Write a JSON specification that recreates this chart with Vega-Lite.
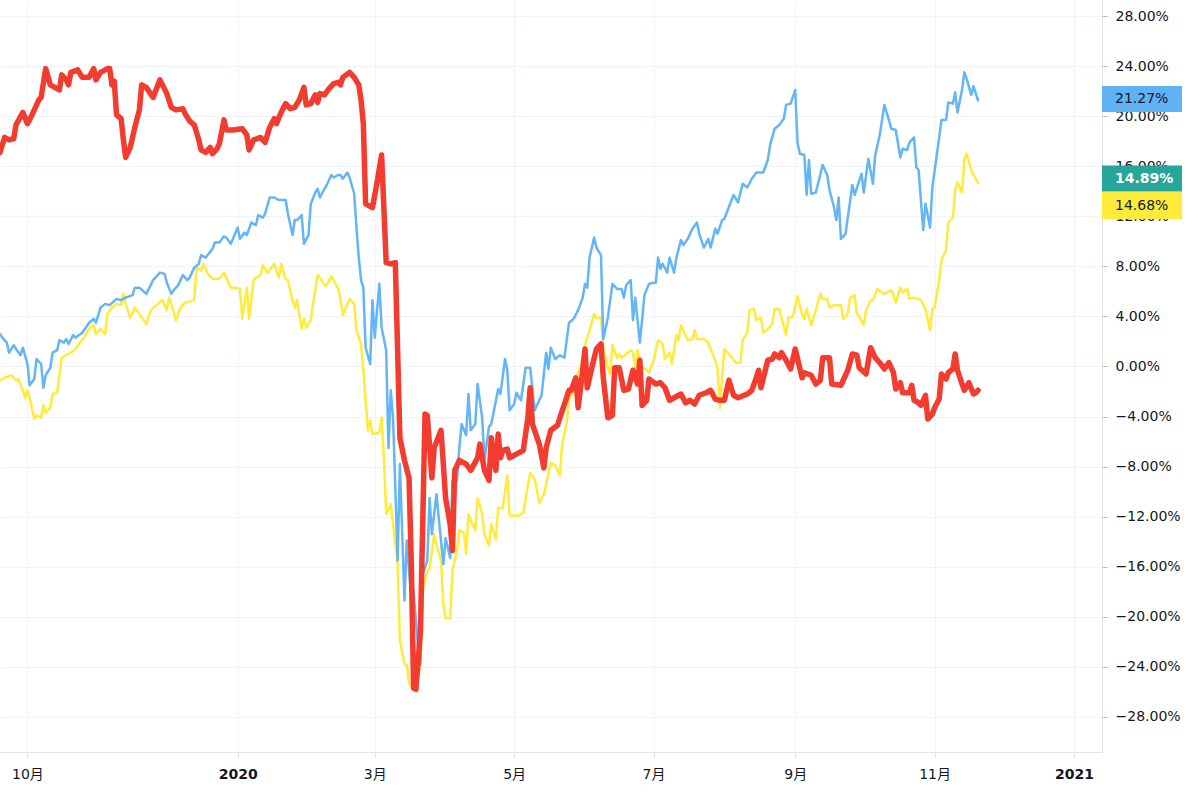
{
"$schema":"https://vega.github.io/schema/vega-lite/v6.json",
"width":1102,"height":752,
"autosize":{"type":"none"},
"padding":{"left":0,"top":0,"right":98,"bottom":40},
"background":"white",
"datasets":{
"red":[
{"date":"2019-09-19","value":17.1},{"date":"2019-09-21","value":18.3},{"date":"2019-09-23","value":18.1},{"date":"2019-09-25","value":18.2},{"date":"2019-09-26","value":19.3},{"date":"2019-09-29","value":20.3},{"date":"2019-10-01","value":19.4},{"date":"2019-10-03","value":20.1},{"date":"2019-10-04","value":20.5},{"date":"2019-10-06","value":21.3},{"date":"2019-10-07","value":21.5},{"date":"2019-10-09","value":23.8},{"date":"2019-10-11","value":22.5},{"date":"2019-10-13","value":22.3},{"date":"2019-10-15","value":22.1},{"date":"2019-10-16","value":23.3},{"date":"2019-10-18","value":22.9},{"date":"2019-10-19","value":22.5},{"date":"2019-10-20","value":23.5},{"date":"2019-10-23","value":23.7},{"date":"2019-10-25","value":23.1},{"date":"2019-10-28","value":23.1},{"date":"2019-10-30","value":23.8},{"date":"2019-10-31","value":22.9},{"date":"2019-11-02","value":23.5},{"date":"2019-11-05","value":23.8},{"date":"2019-11-06","value":23.8},{"date":"2019-11-07","value":22.5},{"date":"2019-11-08","value":22.8},{"date":"2019-11-09","value":20.1},{"date":"2019-11-11","value":19.8},{"date":"2019-11-12","value":18.1},{"date":"2019-11-13","value":16.7},{"date":"2019-11-15","value":17.5},{"date":"2019-11-17","value":19.1},{"date":"2019-11-19","value":20.5},{"date":"2019-11-20","value":22.5},{"date":"2019-11-22","value":22.3},{"date":"2019-11-25","value":21.5},{"date":"2019-11-28","value":22.9},{"date":"2019-12-01","value":21.8},{"date":"2019-12-03","value":20.7},{"date":"2019-12-05","value":20.5},{"date":"2019-12-08","value":20.6},{"date":"2019-12-09","value":20.2},{"date":"2019-12-11","value":19.6},{"date":"2019-12-13","value":19.3},{"date":"2019-12-15","value":18.1},{"date":"2019-12-16","value":17.3},{"date":"2019-12-18","value":17.1},{"date":"2019-12-20","value":17.5},{"date":"2019-12-21","value":17.0},{"date":"2019-12-23","value":17.4},{"date":"2019-12-24","value":17.8},{"date":"2019-12-26","value":19.7},{"date":"2019-12-27","value":18.9},{"date":"2019-12-30","value":18.9},{"date":"2020-01-03","value":19.0},{"date":"2020-01-05","value":18.5},{"date":"2020-01-06","value":17.3},{"date":"2020-01-08","value":18.1},{"date":"2020-01-11","value":18.3},{"date":"2020-01-13","value":17.9},{"date":"2020-01-15","value":19.1},{"date":"2020-01-17","value":19.8},{"date":"2020-01-18","value":19.4},{"date":"2020-01-20","value":20.3},{"date":"2020-01-22","value":21.0},{"date":"2020-01-24","value":20.6},{"date":"2020-01-26","value":20.7},{"date":"2020-01-28","value":21.3},{"date":"2020-01-30","value":22.3},{"date":"2020-01-31","value":20.9},{"date":"2020-02-02","value":21.0},{"date":"2020-02-04","value":21.7},{"date":"2020-02-05","value":21.1},{"date":"2020-02-06","value":21.8},{"date":"2020-02-08","value":21.7},{"date":"2020-02-10","value":22.2},{"date":"2020-02-12","value":22.6},{"date":"2020-02-14","value":22.7},{"date":"2020-02-15","value":22.5},{"date":"2020-02-16","value":23.1},{"date":"2020-02-19","value":23.5},{"date":"2020-02-21","value":23.1},{"date":"2020-02-23","value":22.5},{"date":"2020-02-24","value":21.3},{"date":"2020-02-25","value":19.4},{"date":"2020-02-26","value":13.0},{"date":"2020-02-29","value":12.7},{"date":"2020-03-02","value":14.7},{"date":"2020-03-04","value":16.9},{"date":"2020-03-06","value":8.3},{"date":"2020-03-08","value":8.2},{"date":"2020-03-10","value":8.3},{"date":"2020-03-12","value":-5.7},{"date":"2020-03-14","value":-7.5},{"date":"2020-03-16","value":-8.9},{"date":"2020-03-17","value":-15.8},{"date":"2020-03-18","value":-25.7},{"date":"2020-03-19","value":-25.8},{"date":"2020-03-21","value":-21.1},{"date":"2020-03-23","value":-3.8},{"date":"2020-03-24","value":-3.9},{"date":"2020-03-26","value":-8.9},{"date":"2020-03-27","value":-6.5},{"date":"2020-03-30","value":-5.1},{"date":"2020-04-01","value":-10.5},{"date":"2020-04-03","value":-12.6},{"date":"2020-04-04","value":-14.7},{"date":"2020-04-05","value":-8.3},{"date":"2020-04-07","value":-7.5},{"date":"2020-04-10","value":-7.8},{"date":"2020-04-12","value":-8.3},{"date":"2020-04-15","value":-7.3},{"date":"2020-04-16","value":-6.2},{"date":"2020-04-18","value":-8.3},{"date":"2020-04-20","value":-9.1},{"date":"2020-04-21","value":-5.7},{"date":"2020-04-23","value":-8.3},{"date":"2020-04-24","value":-5.4},{"date":"2020-04-25","value":-7.3},{"date":"2020-04-26","value":-6.7},{"date":"2020-04-28","value":-6.6},{"date":"2020-04-29","value":-7.3},{"date":"2020-05-05","value":-6.7},{"date":"2020-05-07","value":-4.1},{"date":"2020-05-08","value":-1.7},{"date":"2020-05-09","value":-4.6},{"date":"2020-05-12","value":-6.2},{"date":"2020-05-14","value":-8.1},{"date":"2020-05-15","value":-6.5},{"date":"2020-05-17","value":-5.1},{"date":"2020-05-20","value":-4.7},{"date":"2020-05-21","value":-4.1},{"date":"2020-05-23","value":-3.0},{"date":"2020-05-25","value":-1.9},{"date":"2020-05-26","value":-1.9},{"date":"2020-05-28","value":-0.9},{"date":"2020-05-29","value":-3.3},{"date":"2020-05-31","value":-0.3},{"date":"2020-06-01","value":1.4},{"date":"2020-06-02","value":-1.7},{"date":"2020-06-04","value":-0.1},{"date":"2020-06-06","value":1.4},{"date":"2020-06-08","value":1.8},{"date":"2020-06-09","value":-0.9},{"date":"2020-06-11","value":-4.1},{"date":"2020-06-13","value":-3.9},{"date":"2020-06-14","value":-0.1},{"date":"2020-06-16","value":-0.1},{"date":"2020-06-18","value":-1.9},{"date":"2020-06-20","value":-1.8},{"date":"2020-06-22","value":-0.3},{"date":"2020-06-24","value":-1.4},{"date":"2020-06-25","value":0.5},{"date":"2020-06-26","value":-3.1},{"date":"2020-06-28","value":-2.7},{"date":"2020-06-29","value":-1.0},{"date":"2020-07-02","value":-1.4},{"date":"2020-07-04","value":-1.3},{"date":"2020-07-06","value":-1.7},{"date":"2020-07-08","value":-2.7},{"date":"2020-07-10","value":-2.5},{"date":"2020-07-13","value":-2.2},{"date":"2020-07-15","value":-2.9},{"date":"2020-07-17","value":-2.7},{"date":"2020-07-19","value":-3.0},{"date":"2020-07-21","value":-2.3},{"date":"2020-07-24","value":-2.1},{"date":"2020-07-26","value":-1.9},{"date":"2020-07-28","value":-2.6},{"date":"2020-07-30","value":-2.7},{"date":"2020-08-01","value":-2.7},{"date":"2020-08-03","value":-1.1},{"date":"2020-08-05","value":-2.3},{"date":"2020-08-07","value":-2.5},{"date":"2020-08-11","value":-2.2},{"date":"2020-08-13","value":-1.9},{"date":"2020-08-14","value":-1.4},{"date":"2020-08-16","value":-0.3},{"date":"2020-08-17","value":-1.7},{"date":"2020-08-20","value":0.5},{"date":"2020-08-22","value":0.6},{"date":"2020-08-23","value":1.0},{"date":"2020-08-25","value":0.7},{"date":"2020-08-26","value":1.1},{"date":"2020-08-28","value":0.5},{"date":"2020-08-30","value":-0.2},{"date":"2020-09-01","value":1.4},{"date":"2020-09-04","value":-0.9},{"date":"2020-09-05","value":-0.5},{"date":"2020-09-08","value":-0.7},{"date":"2020-09-10","value":-1.4},{"date":"2020-09-12","value":-1.1},{"date":"2020-09-13","value":0.7},{"date":"2020-09-16","value":0.7},{"date":"2020-09-17","value":-1.4},{"date":"2020-09-21","value":-1.5},{"date":"2020-09-24","value":-0.3},{"date":"2020-09-26","value":1.0},{"date":"2020-09-28","value":0.9},{"date":"2020-09-29","value":-0.1},{"date":"2020-10-02","value":-0.6},{"date":"2020-10-04","value":1.5},{"date":"2020-10-06","value":0.7},{"date":"2020-10-08","value":0.3},{"date":"2020-10-10","value":-0.2},{"date":"2020-10-12","value":0.3},{"date":"2020-10-14","value":-0.5},{"date":"2020-10-15","value":-1.8},{"date":"2020-10-17","value":-1.3},{"date":"2020-10-18","value":-2.1},{"date":"2020-10-21","value":-2.1},{"date":"2020-10-22","value":-1.5},{"date":"2020-10-23","value":-2.7},{"date":"2020-10-25","value":-2.9},{"date":"2020-10-26","value":-3.1},{"date":"2020-10-28","value":-2.3},{"date":"2020-10-29","value":-4.2},{"date":"2020-10-31","value":-3.8},{"date":"2020-11-01","value":-3.3},{"date":"2020-11-03","value":-2.6},{"date":"2020-11-04","value":-0.6},{"date":"2020-11-06","value":-1.0},{"date":"2020-11-07","value":-0.5},{"date":"2020-11-09","value":-0.2},{"date":"2020-11-10","value":1.0},{"date":"2020-11-11","value":-0.3},{"date":"2020-11-13","value":-1.4},{"date":"2020-11-14","value":-1.9},{"date":"2020-11-16","value":-1.3},{"date":"2020-11-18","value":-2.2},{"date":"2020-11-19","value":-2.1},{"date":"2020-11-20","value":-1.9}
],
"blue":[
{"date":"2019-09-19","value":2.6},{"date":"2019-09-20","value":2.3},{"date":"2019-09-22","value":1.9},{"date":"2019-09-23","value":1.1},{"date":"2019-09-25","value":1.7},{"date":"2019-09-26","value":1.4},{"date":"2019-09-28","value":0.9},{"date":"2019-09-29","value":1.5},{"date":"2019-10-01","value":0.2},{"date":"2019-10-02","value":-1.5},{"date":"2019-10-04","value":-1.0},{"date":"2019-10-05","value":0.6},{"date":"2019-10-07","value":0.2},{"date":"2019-10-08","value":-1.7},{"date":"2019-10-09","value":-0.7},{"date":"2019-10-11","value":-0.1},{"date":"2019-10-12","value":1.1},{"date":"2019-10-14","value":1.3},{"date":"2019-10-15","value":2.1},{"date":"2019-10-17","value":1.9},{"date":"2019-10-18","value":2.2},{"date":"2019-10-19","value":1.8},{"date":"2019-10-21","value":2.5},{"date":"2019-10-22","value":2.3},{"date":"2019-10-25","value":2.7},{"date":"2019-10-28","value":3.5},{"date":"2019-10-30","value":3.8},{"date":"2019-10-31","value":3.5},{"date":"2019-11-02","value":4.7},{"date":"2019-11-04","value":5.0},{"date":"2019-11-06","value":4.9},{"date":"2019-11-09","value":5.4},{"date":"2019-11-11","value":5.3},{"date":"2019-11-13","value":5.5},{"date":"2019-11-16","value":5.7},{"date":"2019-11-17","value":6.3},{"date":"2019-11-19","value":6.3},{"date":"2019-11-22","value":5.8},{"date":"2019-11-25","value":6.9},{"date":"2019-11-28","value":7.5},{"date":"2019-11-30","value":7.4},{"date":"2019-12-01","value":6.7},{"date":"2019-12-03","value":5.8},{"date":"2019-12-04","value":6.1},{"date":"2019-12-06","value":6.5},{"date":"2019-12-08","value":7.3},{"date":"2019-12-10","value":6.9},{"date":"2019-12-11","value":7.1},{"date":"2019-12-13","value":7.9},{"date":"2019-12-15","value":8.2},{"date":"2019-12-16","value":8.9},{"date":"2019-12-18","value":8.7},{"date":"2019-12-21","value":9.4},{"date":"2019-12-22","value":9.9},{"date":"2019-12-24","value":9.9},{"date":"2019-12-26","value":10.4},{"date":"2019-12-27","value":10.3},{"date":"2019-12-29","value":9.8},{"date":"2019-12-30","value":10.2},{"date":"2020-01-01","value":11.1},{"date":"2020-01-02","value":10.2},{"date":"2020-01-04","value":10.7},{"date":"2020-01-05","value":10.5},{"date":"2020-01-07","value":11.5},{"date":"2020-01-09","value":11.3},{"date":"2020-01-10","value":12.1},{"date":"2020-01-12","value":11.9},{"date":"2020-01-13","value":12.2},{"date":"2020-01-15","value":13.5},{"date":"2020-01-17","value":13.5},{"date":"2020-01-19","value":13.3},{"date":"2020-01-22","value":13.3},{"date":"2020-01-23","value":12.2},{"date":"2020-01-25","value":10.5},{"date":"2020-01-26","value":11.7},{"date":"2020-01-27","value":11.7},{"date":"2020-01-29","value":12.1},{"date":"2020-01-30","value":9.8},{"date":"2020-02-01","value":10.5},{"date":"2020-02-02","value":13.0},{"date":"2020-02-04","value":13.9},{"date":"2020-02-05","value":14.2},{"date":"2020-02-06","value":13.5},{"date":"2020-02-08","value":14.2},{"date":"2020-02-09","value":14.5},{"date":"2020-02-11","value":15.3},{"date":"2020-02-12","value":15.1},{"date":"2020-02-14","value":15.3},{"date":"2020-02-15","value":15.3},{"date":"2020-02-16","value":15.0},{"date":"2020-02-18","value":15.5},{"date":"2020-02-19","value":15.1},{"date":"2020-02-21","value":13.8},{"date":"2020-02-22","value":11.1},{"date":"2020-02-23","value":8.7},{"date":"2020-02-24","value":6.9},{"date":"2020-02-25","value":6.3},{"date":"2020-02-26","value":1.5},{"date":"2020-02-28","value":0.2},{"date":"2020-02-29","value":5.3},{"date":"2020-03-01","value":2.3},{"date":"2020-03-03","value":6.6},{"date":"2020-03-04","value":3.1},{"date":"2020-03-06","value":1.3},{"date":"2020-03-07","value":-6.5},{"date":"2020-03-08","value":-1.9},{"date":"2020-03-09","value":-4.1},{"date":"2020-03-11","value":-15.5},{"date":"2020-03-12","value":-7.8},{"date":"2020-03-14","value":-18.7},{"date":"2020-03-15","value":-13.9},{"date":"2020-03-17","value":-18.5},{"date":"2020-03-18","value":-17.9},{"date":"2020-03-20","value":-22.5},{"date":"2020-03-21","value":-23.8},{"date":"2020-03-22","value":-16.6},{"date":"2020-03-24","value":-15.5},{"date":"2020-03-25","value":-10.5},{"date":"2020-03-26","value":-13.4},{"date":"2020-03-28","value":-10.2},{"date":"2020-03-29","value":-12.1},{"date":"2020-03-31","value":-15.8},{"date":"2020-04-01","value":-13.7},{"date":"2020-04-03","value":-15.3},{"date":"2020-04-04","value":-9.1},{"date":"2020-04-06","value":-9.1},{"date":"2020-04-07","value":-6.5},{"date":"2020-04-08","value":-4.6},{"date":"2020-04-10","value":-5.5},{"date":"2020-04-11","value":-2.2},{"date":"2020-04-12","value":-5.1},{"date":"2020-04-14","value":-4.6},{"date":"2020-04-15","value":-1.4},{"date":"2020-04-17","value":-4.1},{"date":"2020-04-18","value":-7.5},{"date":"2020-04-20","value":-4.8},{"date":"2020-04-21","value":-4.6},{"date":"2020-04-24","value":-1.8},{"date":"2020-04-25","value":-2.2},{"date":"2020-04-27","value":0.6},{"date":"2020-04-28","value":-0.3},{"date":"2020-04-29","value":-3.5},{"date":"2020-05-01","value":-3.0},{"date":"2020-05-02","value":-2.1},{"date":"2020-05-04","value":-2.7},{"date":"2020-05-06","value":-0.1},{"date":"2020-05-08","value":-0.1},{"date":"2020-05-10","value":-3.5},{"date":"2020-05-12","value":-2.7},{"date":"2020-05-13","value":-2.3},{"date":"2020-05-15","value":1.1},{"date":"2020-05-16","value":-0.2},{"date":"2020-05-17","value":1.5},{"date":"2020-05-19","value":0.6},{"date":"2020-05-21","value":0.9},{"date":"2020-05-23","value":0.7},{"date":"2020-05-25","value":3.5},{"date":"2020-05-27","value":3.8},{"date":"2020-05-29","value":4.5},{"date":"2020-05-31","value":5.5},{"date":"2020-06-01","value":6.6},{"date":"2020-06-02","value":6.3},{"date":"2020-06-03","value":8.7},{"date":"2020-06-05","value":10.3},{"date":"2020-06-06","value":9.5},{"date":"2020-06-08","value":8.9},{"date":"2020-06-09","value":2.2},{"date":"2020-06-11","value":3.9},{"date":"2020-06-13","value":6.6},{"date":"2020-06-15","value":6.2},{"date":"2020-06-17","value":6.2},{"date":"2020-06-18","value":5.5},{"date":"2020-06-19","value":6.5},{"date":"2020-06-21","value":6.9},{"date":"2020-06-22","value":3.7},{"date":"2020-06-23","value":5.5},{"date":"2020-06-25","value":1.9},{"date":"2020-06-26","value":3.7},{"date":"2020-06-27","value":5.7},{"date":"2020-06-29","value":6.6},{"date":"2020-07-01","value":6.7},{"date":"2020-07-02","value":6.7},{"date":"2020-07-03","value":8.7},{"date":"2020-07-04","value":7.8},{"date":"2020-07-05","value":8.2},{"date":"2020-07-07","value":7.5},{"date":"2020-07-08","value":8.7},{"date":"2020-07-10","value":7.5},{"date":"2020-07-11","value":8.7},{"date":"2020-07-13","value":10.1},{"date":"2020-07-14","value":9.7},{"date":"2020-07-16","value":10.2},{"date":"2020-07-18","value":11.0},{"date":"2020-07-20","value":11.5},{"date":"2020-07-21","value":10.6},{"date":"2020-07-23","value":9.5},{"date":"2020-07-25","value":10.2},{"date":"2020-07-26","value":9.5},{"date":"2020-07-28","value":11.0},{"date":"2020-07-29","value":10.6},{"date":"2020-07-31","value":11.7},{"date":"2020-08-01","value":11.8},{"date":"2020-08-05","value":13.7},{"date":"2020-08-07","value":13.1},{"date":"2020-08-09","value":14.6},{"date":"2020-08-11","value":14.3},{"date":"2020-08-13","value":15.0},{"date":"2020-08-15","value":15.5},{"date":"2020-08-18","value":15.5},{"date":"2020-08-20","value":16.5},{"date":"2020-08-21","value":17.7},{"date":"2020-08-23","value":19.0},{"date":"2020-08-25","value":19.3},{"date":"2020-08-27","value":19.8},{"date":"2020-08-28","value":20.9},{"date":"2020-08-30","value":21.0},{"date":"2020-09-01","value":22.1},{"date":"2020-09-02","value":17.9},{"date":"2020-09-03","value":17.0},{"date":"2020-09-05","value":16.9},{"date":"2020-09-06","value":13.7},{"date":"2020-09-07","value":16.5},{"date":"2020-09-08","value":13.8},{"date":"2020-09-10","value":13.9},{"date":"2020-09-13","value":16.1},{"date":"2020-09-15","value":15.3},{"date":"2020-09-16","value":14.1},{"date":"2020-09-18","value":12.7},{"date":"2020-09-19","value":11.7},{"date":"2020-09-20","value":13.5},{"date":"2020-09-21","value":10.2},{"date":"2020-09-23","value":10.6},{"date":"2020-09-26","value":14.5},{"date":"2020-09-27","value":13.7},{"date":"2020-09-30","value":15.4},{"date":"2020-10-01","value":13.9},{"date":"2020-10-03","value":16.6},{"date":"2020-10-05","value":14.6},{"date":"2020-10-06","value":16.9},{"date":"2020-10-08","value":18.5},{"date":"2020-10-10","value":20.9},{"date":"2020-10-12","value":19.7},{"date":"2020-10-13","value":19.0},{"date":"2020-10-15","value":18.9},{"date":"2020-10-17","value":16.7},{"date":"2020-10-18","value":17.4},{"date":"2020-10-20","value":17.3},{"date":"2020-10-21","value":17.9},{"date":"2020-10-23","value":18.3},{"date":"2020-10-24","value":15.9},{"date":"2020-10-25","value":15.7},{"date":"2020-10-27","value":10.9},{"date":"2020-10-28","value":13.0},{"date":"2020-10-30","value":11.1},{"date":"2020-10-31","value":14.3},{"date":"2020-11-03","value":18.3},{"date":"2020-11-04","value":19.7},{"date":"2020-11-06","value":19.7},{"date":"2020-11-07","value":21.1},{"date":"2020-11-09","value":21.0},{"date":"2020-11-10","value":21.9},{"date":"2020-11-11","value":20.3},{"date":"2020-11-13","value":22.1},{"date":"2020-11-14","value":23.5},{"date":"2020-11-15","value":23.0},{"date":"2020-11-17","value":21.7},{"date":"2020-11-18","value":22.4},{"date":"2020-11-20","value":21.27}
],
"yellow":[
{"date":"2019-09-19","value":-1.1},{"date":"2019-09-21","value":-0.9},{"date":"2019-09-24","value":-0.7},{"date":"2019-09-26","value":-1.1},{"date":"2019-09-27","value":-1.0},{"date":"2019-09-29","value":-1.9},{"date":"2019-09-30","value":-2.5},{"date":"2019-10-01","value":-1.9},{"date":"2019-10-02","value":-2.5},{"date":"2019-10-04","value":-4.2},{"date":"2019-10-05","value":-3.9},{"date":"2019-10-07","value":-4.1},{"date":"2019-10-08","value":-3.1},{"date":"2019-10-09","value":-3.7},{"date":"2019-10-11","value":-3.3},{"date":"2019-10-12","value":-2.2},{"date":"2019-10-14","value":-2.1},{"date":"2019-10-15","value":-0.7},{"date":"2019-10-16","value":0.7},{"date":"2019-10-18","value":0.9},{"date":"2019-10-20","value":1.1},{"date":"2019-10-22","value":1.4},{"date":"2019-10-24","value":1.9},{"date":"2019-10-26","value":2.4},{"date":"2019-10-28","value":3.0},{"date":"2019-10-30","value":3.3},{"date":"2019-10-31","value":2.6},{"date":"2019-11-02","value":3.0},{"date":"2019-11-04","value":2.6},{"date":"2019-11-05","value":4.2},{"date":"2019-11-07","value":4.7},{"date":"2019-11-09","value":5.0},{"date":"2019-11-11","value":4.9},{"date":"2019-11-12","value":5.8},{"date":"2019-11-13","value":5.0},{"date":"2019-11-15","value":3.9},{"date":"2019-11-17","value":4.7},{"date":"2019-11-19","value":4.2},{"date":"2019-11-22","value":3.4},{"date":"2019-11-24","value":4.5},{"date":"2019-11-27","value":5.0},{"date":"2019-11-29","value":5.3},{"date":"2019-12-01","value":4.5},{"date":"2019-12-02","value":5.5},{"date":"2019-12-03","value":5.0},{"date":"2019-12-05","value":3.7},{"date":"2019-12-07","value":4.7},{"date":"2019-12-09","value":5.1},{"date":"2019-12-11","value":5.2},{"date":"2019-12-13","value":5.3},{"date":"2019-12-14","value":7.9},{"date":"2019-12-16","value":7.7},{"date":"2019-12-17","value":8.2},{"date":"2019-12-19","value":7.4},{"date":"2019-12-21","value":7.0},{"date":"2019-12-24","value":7.0},{"date":"2019-12-26","value":7.5},{"date":"2019-12-27","value":7.1},{"date":"2019-12-29","value":6.3},{"date":"2019-12-31","value":6.3},{"date":"2020-01-02","value":6.2},{"date":"2020-01-03","value":3.8},{"date":"2020-01-05","value":6.3},{"date":"2020-01-06","value":3.8},{"date":"2020-01-08","value":6.9},{"date":"2020-01-09","value":7.1},{"date":"2020-01-11","value":7.3},{"date":"2020-01-12","value":8.1},{"date":"2020-01-14","value":7.5},{"date":"2020-01-15","value":7.7},{"date":"2020-01-17","value":8.2},{"date":"2020-01-19","value":7.1},{"date":"2020-01-20","value":8.2},{"date":"2020-01-22","value":7.0},{"date":"2020-01-23","value":6.9},{"date":"2020-01-25","value":5.3},{"date":"2020-01-26","value":4.7},{"date":"2020-01-27","value":5.3},{"date":"2020-01-29","value":3.0},{"date":"2020-01-30","value":3.8},{"date":"2020-01-31","value":3.1},{"date":"2020-02-02","value":3.7},{"date":"2020-02-03","value":5.0},{"date":"2020-02-05","value":7.3},{"date":"2020-02-06","value":7.1},{"date":"2020-02-08","value":6.5},{"date":"2020-02-09","value":6.5},{"date":"2020-02-11","value":7.2},{"date":"2020-02-12","value":6.9},{"date":"2020-02-14","value":6.2},{"date":"2020-02-15","value":5.4},{"date":"2020-02-16","value":4.1},{"date":"2020-02-18","value":5.0},{"date":"2020-02-19","value":5.4},{"date":"2020-02-21","value":5.0},{"date":"2020-02-22","value":2.9},{"date":"2020-02-24","value":1.8},{"date":"2020-02-25","value":-0.3},{"date":"2020-02-27","value":-5.1},{"date":"2020-02-28","value":-4.3},{"date":"2020-02-29","value":-5.4},{"date":"2020-03-03","value":-5.3},{"date":"2020-03-04","value":-4.1},{"date":"2020-03-05","value":-7.3},{"date":"2020-03-06","value":-11.8},{"date":"2020-03-08","value":-11.0},{"date":"2020-03-09","value":-12.6},{"date":"2020-03-11","value":-15.8},{"date":"2020-03-12","value":-21.9},{"date":"2020-03-14","value":-23.8},{"date":"2020-03-15","value":-23.8},{"date":"2020-03-16","value":-25.3},{"date":"2020-03-18","value":-25.8},{"date":"2020-03-19","value":-25.8},{"date":"2020-03-21","value":-23.8},{"date":"2020-03-22","value":-17.9},{"date":"2020-03-24","value":-16.3},{"date":"2020-03-25","value":-16.1},{"date":"2020-03-27","value":-13.4},{"date":"2020-03-28","value":-14.2},{"date":"2020-03-30","value":-15.5},{"date":"2020-03-31","value":-19.0},{"date":"2020-04-01","value":-20.1},{"date":"2020-04-03","value":-20.1},{"date":"2020-04-04","value":-16.3},{"date":"2020-04-06","value":-14.7},{"date":"2020-04-07","value":-13.1},{"date":"2020-04-09","value":-13.3},{"date":"2020-04-10","value":-15.0},{"date":"2020-04-11","value":-11.8},{"date":"2020-04-12","value":-12.3},{"date":"2020-04-14","value":-13.1},{"date":"2020-04-15","value":-10.5},{"date":"2020-04-17","value":-11.8},{"date":"2020-04-18","value":-13.4},{"date":"2020-04-20","value":-14.3},{"date":"2020-04-21","value":-12.6},{"date":"2020-04-23","value":-13.8},{"date":"2020-04-24","value":-11.3},{"date":"2020-04-26","value":-11.3},{"date":"2020-04-28","value":-8.7},{"date":"2020-04-29","value":-11.9},{"date":"2020-05-03","value":-11.9},{"date":"2020-05-05","value":-11.7},{"date":"2020-05-07","value":-9.5},{"date":"2020-05-08","value":-8.5},{"date":"2020-05-10","value":-9.0},{"date":"2020-05-12","value":-10.9},{"date":"2020-05-14","value":-10.2},{"date":"2020-05-15","value":-9.4},{"date":"2020-05-17","value":-7.7},{"date":"2020-05-19","value":-7.9},{"date":"2020-05-21","value":-8.7},{"date":"2020-05-22","value":-6.2},{"date":"2020-05-24","value":-4.5},{"date":"2020-05-25","value":-2.7},{"date":"2020-05-27","value":-1.9},{"date":"2020-05-28","value":-0.9},{"date":"2020-05-30","value":-0.1},{"date":"2020-06-01","value":1.7},{"date":"2020-06-03","value":2.9},{"date":"2020-06-05","value":4.2},{"date":"2020-06-06","value":3.9},{"date":"2020-06-08","value":3.9},{"date":"2020-06-09","value":1.5},{"date":"2020-06-11","value":-0.1},{"date":"2020-06-12","value":-0.6},{"date":"2020-06-13","value":1.7},{"date":"2020-06-15","value":0.7},{"date":"2020-06-16","value":1.0},{"date":"2020-06-17","value":0.7},{"date":"2020-06-19","value":1.0},{"date":"2020-06-21","value":1.3},{"date":"2020-06-22","value":1.1},{"date":"2020-06-23","value":-0.1},{"date":"2020-06-24","value":1.3},{"date":"2020-06-26","value":-0.3},{"date":"2020-06-27","value":-0.1},{"date":"2020-06-29","value":-0.5},{"date":"2020-07-01","value":0.5},{"date":"2020-07-03","value":2.1},{"date":"2020-07-05","value":1.8},{"date":"2020-07-06","value":0.6},{"date":"2020-07-08","value":1.1},{"date":"2020-07-09","value":0.2},{"date":"2020-07-11","value":2.5},{"date":"2020-07-12","value":2.1},{"date":"2020-07-13","value":3.3},{"date":"2020-07-15","value":2.5},{"date":"2020-07-16","value":2.1},{"date":"2020-07-18","value":2.2},{"date":"2020-07-19","value":2.9},{"date":"2020-07-20","value":2.2},{"date":"2020-07-23","value":2.2},{"date":"2020-07-25","value":1.9},{"date":"2020-07-26","value":1.4},{"date":"2020-07-28","value":0.5},{"date":"2020-07-29","value":-0.1},{"date":"2020-07-30","value":-3.3},{"date":"2020-07-31","value":-0.9},{"date":"2020-08-01","value":1.4},{"date":"2020-08-03","value":1.0},{"date":"2020-08-06","value":0.3},{"date":"2020-08-08","value":0.3},{"date":"2020-08-09","value":2.1},{"date":"2020-08-11","value":2.7},{"date":"2020-08-12","value":4.5},{"date":"2020-08-14","value":4.6},{"date":"2020-08-15","value":3.7},{"date":"2020-08-17","value":3.9},{"date":"2020-08-18","value":2.7},{"date":"2020-08-20","value":3.0},{"date":"2020-08-22","value":3.4},{"date":"2020-08-23","value":4.6},{"date":"2020-08-25","value":4.6},{"date":"2020-08-26","value":3.9},{"date":"2020-08-28","value":2.5},{"date":"2020-08-29","value":3.9},{"date":"2020-08-31","value":4.0},{"date":"2020-09-02","value":5.6},{"date":"2020-09-04","value":4.2},{"date":"2020-09-05","value":3.8},{"date":"2020-09-06","value":4.6},{"date":"2020-09-08","value":3.3},{"date":"2020-09-10","value":4.5},{"date":"2020-09-12","value":5.8},{"date":"2020-09-13","value":5.4},{"date":"2020-09-15","value":5.4},{"date":"2020-09-16","value":4.7},{"date":"2020-09-18","value":4.9},{"date":"2020-09-21","value":4.9},{"date":"2020-09-22","value":3.8},{"date":"2020-09-24","value":4.2},{"date":"2020-09-25","value":5.5},{"date":"2020-09-27","value":5.7},{"date":"2020-09-28","value":4.2},{"date":"2020-09-29","value":4.0},{"date":"2020-10-01","value":3.3},{"date":"2020-10-02","value":4.5},{"date":"2020-10-04","value":5.3},{"date":"2020-10-05","value":5.3},{"date":"2020-10-07","value":6.2},{"date":"2020-10-09","value":5.9},{"date":"2020-10-10","value":5.8},{"date":"2020-10-13","value":6.1},{"date":"2020-10-14","value":5.7},{"date":"2020-10-15","value":5.1},{"date":"2020-10-17","value":6.3},{"date":"2020-10-18","value":5.9},{"date":"2020-10-20","value":6.2},{"date":"2020-10-21","value":5.4},{"date":"2020-10-23","value":5.5},{"date":"2020-10-25","value":5.4},{"date":"2020-10-26","value":5.3},{"date":"2020-10-28","value":4.6},{"date":"2020-10-30","value":2.9},{"date":"2020-10-31","value":4.6},{"date":"2020-11-01","value":4.7},{"date":"2020-11-03","value":6.9},{"date":"2020-11-04","value":8.5},{"date":"2020-11-06","value":9.3},{"date":"2020-11-07","value":11.5},{"date":"2020-11-09","value":11.9},{"date":"2020-11-10","value":14.1},{"date":"2020-11-11","value":14.7},{"date":"2020-11-13","value":13.9},{"date":"2020-11-14","value":16.5},{"date":"2020-11-15","value":17.0},{"date":"2020-11-17","value":15.7},{"date":"2020-11-18","value":15.3},{"date":"2020-11-20","value":14.68}
],
"badges":[
{"series":"blue","value":21.27},{"series":"main","value":14.89},{"series":"yellow","value":14.68}
]
},
"layer":[
{"data":{"name":"yellow"},"mark":{"type":"line","color":"#ffeb3b","strokeWidth":2.5,"strokeJoin":"round","strokeCap":"round"},
"encoding":{
"x":{"field":"date","type":"temporal","title":null,
"scale":{"domain":[{"year":2019,"month":9,"date":19},{"year":2021,"month":1,"date":13,"hours":6}]},
"axis":{"orient":"bottom","values":[{"year":2019,"month":10,"date":1},{"year":2020,"month":1,"date":1},{"year":2020,"month":3,"date":1},{"year":2020,"month":5,"date":1},{"year":2020,"month":7,"date":1},{"year":2020,"month":9,"date":1},{"year":2020,"month":11,"date":1},{"year":2021,"month":1,"date":1}],
"labelExpr":"month(datum.value)==0 ? timeFormat(datum.value,'%Y') : (month(datum.value)+1)+'月'",
"labelFontWeight":{"condition":{"test":"month(datum.value)==0","value":"bold"},"value":"normal"},
"labelFlush":false,"labelOverlap":false,"tickSize":5,"labelPadding":10,"grid":true,"domain":true}},
"y":{"field":"value","type":"quantitative","title":null,
"scale":{"domain":[-30.8,29.28],"nice":false,"zero":false},
"axis":{"orient":"right","values":[-28,-24,-20,-16,-12,-8,-4,0,4,8,12,16,20,24,28],
"labelExpr":"format(datum.value,'.2f')+'%'","labelFlush":false,"labelOverlap":false,"tickSize":5,"labelPadding":8,"tickColor":"#b2b5be","grid":true,"domain":true}}}},
{"data":{"name":"blue"},"mark":{"type":"line","color":"#64b5f6","strokeWidth":2.5,"strokeJoin":"round","strokeCap":"round"},
"encoding":{"x":{"field":"date","type":"temporal","title":null},"y":{"field":"value","type":"quantitative","title":null}}},
{"data":{"name":"red"},"mark":{"type":"line","color":"#f23c30","strokeWidth":5.5,"strokeJoin":"round","strokeCap":"round"},
"encoding":{"x":{"field":"date","type":"temporal","title":null},"y":{"field":"value","type":"quantitative","title":null}}},
{"data":{"name":"badges"},"transform":[{"filter":"datum.series=='blue'"}],
"mark":{"type":"tick","orient":"horizontal","size":80,"thickness":26,"opacity":1,"color":"#5fb3f4","yOffset":-1.3},
"encoding":{"x":{"datum":{"year":2021,"month":1,"date":30,"hours":18},"type":"temporal","title":null},"y":{"field":"value","type":"quantitative","title":null}}},
{"data":{"name":"badges"},"transform":[{"filter":"datum.series=='main'"}],
"mark":{"type":"tick","orient":"horizontal","size":80,"thickness":26,"opacity":1,"color":"#26a69a","yOffset":-1.5},
"encoding":{"x":{"datum":{"year":2021,"month":1,"date":30,"hours":18},"type":"temporal","title":null},"y":{"field":"value","type":"quantitative","title":null}}},
{"data":{"name":"badges"},"transform":[{"filter":"datum.series=='yellow'"}],
"mark":{"type":"tick","orient":"horizontal","size":80,"thickness":27,"opacity":1,"color":"#ffeb3b","yOffset":22.8},
"encoding":{"x":{"datum":{"year":2021,"month":1,"date":30,"hours":18},"type":"temporal","title":null},"y":{"field":"value","type":"quantitative","title":null}}},
{"data":{"name":"badges"},"transform":[{"filter":"datum.series=='blue'"},{"calculate":"format(datum.value,'.2f')+'%'","as":"label"}],
"mark":{"type":"text","align":"left","baseline":"middle","dx":13,"yOffset":-1.3,"color":"#131722","fontSize":14,"font":"DejaVu Sans"},
"encoding":{"x":{"datum":{"year":2021,"month":1,"date":13,"hours":6},"type":"temporal","title":null},"y":{"field":"value","type":"quantitative","title":null},"text":{"field":"label"}}},
{"data":{"name":"badges"},"transform":[{"filter":"datum.series=='main'"},{"calculate":"format(datum.value,'.2f')+'%'","as":"label"}],
"mark":{"type":"text","align":"left","baseline":"middle","dx":13,"yOffset":-1.5,"color":"#ffffff","fontWeight":"bold","fontSize":14,"font":"DejaVu Sans"},
"encoding":{"x":{"datum":{"year":2021,"month":1,"date":13,"hours":6},"type":"temporal","title":null},"y":{"field":"value","type":"quantitative","title":null},"text":{"field":"label"}}},
{"data":{"name":"badges"},"transform":[{"filter":"datum.series=='yellow'"},{"calculate":"format(datum.value,'.2f')+'%'","as":"label"}],
"mark":{"type":"text","align":"left","baseline":"middle","dx":13,"yOffset":22.8,"color":"#131722","fontSize":14,"font":"DejaVu Sans"},
"encoding":{"x":{"datum":{"year":2021,"month":1,"date":13,"hours":6},"type":"temporal","title":null},"y":{"field":"value","type":"quantitative","title":null},"text":{"field":"label"}}}
],
"config":{
"view":{"stroke":null},
"axis":{"labelFont":"DejaVu Sans, Noto Sans CJK SC","labelFontSize":14,"labelColor":"#131722","gridColor":"#f0f3fa","domainColor":"#e0e3eb","tickColor":"#e0e3eb"}
}
}
